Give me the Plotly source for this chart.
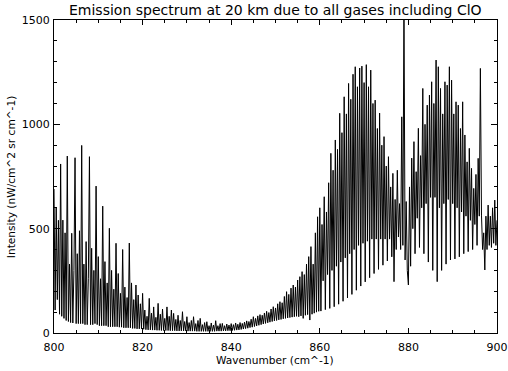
import numpy as np
import plotly.graph_objects as go

seg_800_820 = [690, 110, 600, 160, 540, 90, 810, 80, 541, 70, 480, 60,
               848, 55, 330, 50, 478, 48, 300,
               840, 45, 380, 45, 490, 45,
               899, 45, 330, 40, 438, 40, 260,
               845, 40, 406, 40, 300, 45,
               704, 40, 366, 35, 260, 35,
               608, 35, 342, 35, 240, 30,
               502, 30, 300, 30, 210, 30,
               430, 30, 285, 28, 190, 28,
               400, 25, 220, 25, 170, 25,
               431, 25, 240, 22, 160, 22,
               230, 20, 182, 20, 140, 20]
seg_820_840 = [190, 18, 110, 16, 80, 15, 166, 15, 95, 14, 125, 14,
               75, 13, 142, 13, 90, 12, 115, 12, 70, 12, 125, 12,
               80, 11, 110, 11, 94, 11, 65, 10, 85, 10, 60, 10,
               102, 10, 55, 10, 78, 9, 50, 9, 60, 9, 78, 9,
               45, 8, 60, 8, 70, 8, 40, 8, 50, 8, 54, 8,
               35, 8, 48, 8, 38, 8, 59, 9, 35, 9, 45, 9,
               46, 10, 35, 10, 43, 11, 38, 11]
seg_840_860 = [45, 12, 40, 13, 48, 14, 42, 15, 50, 17, 46, 19,
               52, 21, 58, 23, 55, 26, 66, 28, 78, 31, 70, 34,
               82, 37, 88, 40, 85, 43, 96, 46, 104, 49, 98, 52,
               115, 55, 126, 58, 120, 60, 140, 63, 150, 65, 145, 68,
               175, 70, 198, 72, 185, 74, 215, 76, 230, 78, 220, 80,
               254, 78, 270, 82, 294, 70, 280, 85, 330, 88, 366, 62,
               414, 90, 330, 95, 480, 100, 557, 104]
seg_860_880 = [600, 105, 520, 250, 653, 112, 580, 280, 720, 118, 861, 300,
               780, 126, 925, 320, 880, 138, 1053, 340, 960, 152, 1132, 360,
               1050, 168, 1196, 380, 1120, 185, 1240, 400, 1276, 205, 1180, 420,
               1270, 225, 1279, 430, 1200, 245, 1286, 440, 1180, 265, 1260, 450,
               1100, 285, 1116, 450, 980, 305, 1054, 450, 900, 325, 941, 450,
               800, 345, 845, 450, 700, 365, 765, 246, 640, 400, 780, 460,
               620, 400, 1036, 420, 1600, 350, 630, 300]
seg_880_900 = [230, 700, 320, 838, 500, 917, 380, 773, 550, 981, 410, 850,
               600, 1172, 380, 1000, 620, 1092, 340, 1140, 650, 1204, 300, 1100,
               650, 1308, 246, 1276, 600, 1172, 300, 1050, 620, 1204, 330, 1188,
               640, 1276, 350, 1212, 620, 1050, 355, 1108, 600, 1092, 365, 980,
               580, 1108, 380, 949, 560, 820, 390, 885, 540, 789, 400, 693,
               520, 760, 420, 837, 560, 1268, 565, 400, 480, 302, 560, 400,
               613, 420, 560, 410, 600, 430, 637, 420, 540]

wn_start = 800.0
wn_step = 0.25

intensity = seg_800_820 + seg_820_840 + seg_840_860 + seg_860_880 + seg_880_900
wavenumber = wn_start + wn_step * np.arange(len(intensity))

FONT = "DejaVu Sans"

fig = go.Figure(go.Scatter(x=wavenumber, y=intensity, mode="lines",
                           line=dict(color="black", width=1), hoverinfo="skip"))

axis_common = dict(showline=True, linecolor="black", linewidth=1, mirror="ticks",
                   ticks="inside", tickcolor="black", tickwidth=1,
                   showgrid=False, zeroline=False, automargin=False,
                   tickfont=dict(family=FONT, size=11, color="black"))

fig.update_xaxes(range=[800, 900], tick0=800, dtick=20, ticklen=5, ticklabelstandoff=4,
                 minor=dict(dtick=5, ticks="inside", ticklen=3, tickcolor="black", showgrid=False),
                 **axis_common)
fig.update_yaxes(range=[0, 1500], tick0=0, dtick=500, ticklen=6, ticklabelstandoff=1,
                 minor=dict(dtick=100, ticks="inside", ticklen=3, tickcolor="black", showgrid=False),
                 **axis_common)

fig.update_layout(
    width=508, height=371, autosize=False,
    margin=dict(l=54, r=11, t=20, b=38),
    paper_bgcolor="white", plot_bgcolor="white",
    showlegend=False,
    font=dict(family=FONT, color="black"),
    annotations=[
        dict(text="Emission spectrum at 20 km due to all gases including ClO",
             xref="paper", yref="paper", x=0.499, y=1.032, xanchor="center", yanchor="middle",
             showarrow=False, font=dict(family=FONT, size=14, color="black")),
        dict(text="Wavenumber (cm^-1)", xref="paper", yref="paper", x=0.499, y=-0.087,
             xanchor="center", yanchor="middle", showarrow=False,
             font=dict(family=FONT, size=10.6, color="black")),
        dict(text="Intensity (nW/cm^2 sr cm^-1)", xref="paper", yref="paper", x=-0.097, y=0.498,
             xanchor="center", yanchor="middle", textangle=-90, showarrow=False,
             font=dict(family=FONT, size=10.6, color="black")),
    ],
)

fig.write_html("out.html")
